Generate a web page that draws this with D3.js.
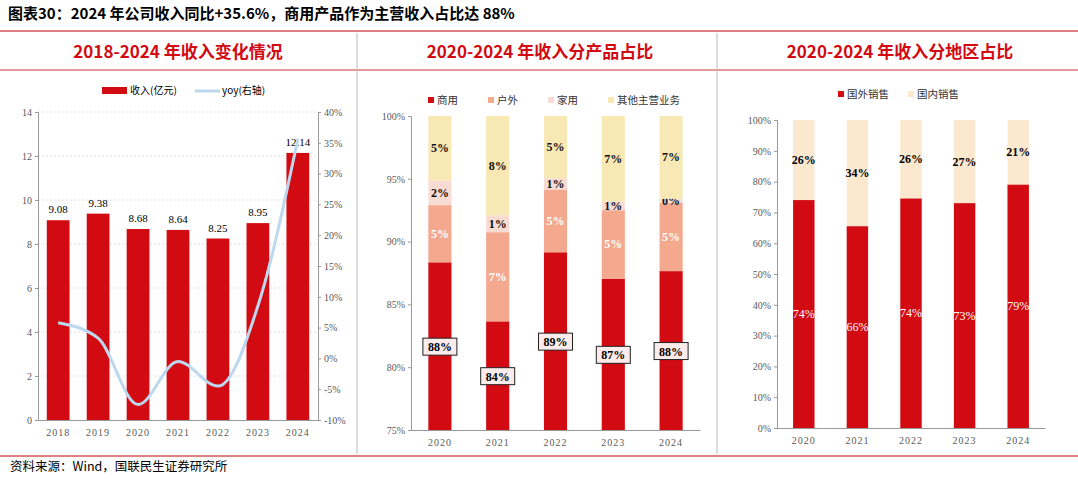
<!DOCTYPE html><html><head><meta charset="utf-8"><script src="https://cdn.jsdelivr.net/npm/d3@7"></script>
<style>body{margin:0;background:#fff}svg{font-family:"Liberation Serif","Noto Sans CJK SC",serif}</style></head><body><svg id="c" width="1078" height="479"></svg><script>
const years1=["2018","2019","2020","2021","2022","2023","2024"];
const revenue=[9.08,9.38,8.68,8.64,8.25,8.95,12.14];
const yoy=[5.8,3.3,-7.5,-0.5,-4.5,8.5,35.6];
const years2=["2020","2021","2022","2023","2024"];
const commercial=[88.35,83.65,89.15,87.05,87.65];
const outdoor=[4.55,7.1,5.0,5.45,5.45];
const household=[1.95,1.35,0.9,0.7,0.3];
const other=[5.15,7.9,4.95,6.8,6.6];
const labC=["88%","84%","89%","87%","88%"],labO=["5%","7%","5%","5%","5%"],labH=["2%","1%","1%","1%","0%"],labOt=["5%","8%","5%","7%","7%"];
const foreign=[74,65.5,74.5,73,79];
const domestic=[26,34.5,25.5,27,21];
const labF=["74%","66%","74%","73%","79%"],labD=["26%","34%","26%","27%","21%"];
const RED="#d20a11",SALMON="#f4a88e",PINK="#f8dcd4",CREAM="#f8e8b4",BLUE="#bcd7ee",BEIGE="#fce8cf";
const svg=d3.select("#c");
const cjk='"Noto Sans CJK SC",sans-serif';
const serif='"Liberation Serif",serif';
svg.append("text").attr("x",8).attr("y",19).attr("font-family",cjk).attr("font-weight","bold").attr("font-size",15).text("图表30：2024 年公司收入同比+35.6%，商用产品作为主营收入占比达 88%");
svg.append("line").attr("x1",0).attr("x2",1078).attr("y1",31).attr("y2",31).attr("stroke","#c00000").attr("stroke-width",1.2);
svg.append("line").attr("x1",0).attr("x2",1078).attr("y1",70).attr("y2",70).attr("stroke","#c00000").attr("stroke-width",0.8);
svg.append("line").attr("x1",0).attr("x2",1078).attr("y1",456).attr("y2",456).attr("stroke","#c00000").attr("stroke-width",1.2);
[357,717].forEach(x=>svg.append("line").attr("x1",x).attr("x2",x).attr("y1",33).attr("y2",454).attr("stroke","#bbb"));
[["2018-2024 年收入变化情况",178],["2020-2024 年收入分产品占比",540],["2020-2024 年收入分地区占比",900]].forEach(([t,x])=>svg.append("text").attr("x",x).attr("y",58).attr("text-anchor","middle").attr("font-family",cjk).attr("font-weight","bold").attr("font-size",17).attr("fill",RED).text(t));
svg.append("text").attr("x",10).attr("y",471).attr("font-family",cjk).attr("font-size",12.5).text("资料来源：Wind，国联民生证券研究所");
const gray="#595959";
function axisStyle(g){g.attr("font-family",serif);g.selectAll("text").attr("fill",gray).attr("font-size",10);g.selectAll("path,line").attr("stroke","#999");}
// chart 1
{const x=d3.scaleBand().domain(years1).range([38,318]).paddingInner(0.43).paddingOuter(0.22);
const y=d3.scaleLinear().domain([0,14]).range([420,112]);
const y2=d3.scaleLinear().domain([-10,40]).range([420,112]);
const g=svg.append("g");
y.ticks(7).forEach(t=>{if(t>0)g.append("line").attr("x1",38).attr("x2",318).attr("y1",y(t)).attr("y2",y(t)).attr("stroke","#ddd").attr("stroke-dasharray","2,2");});
g.append("g").attr("transform","translate(38,0)").call(d3.axisLeft(y).ticks(7).tickSize(3)).call(axisStyle);
g.append("g").attr("transform","translate(318,0)").call(d3.axisRight(y2).ticks(10).tickSize(3).tickFormat(d=>d+"%")).call(axisStyle);
g.append("g").attr("transform","translate(0,420)").call(d3.axisBottom(x).tickSize(0).tickPadding(9)).call(axisStyle).selectAll("text").attr("letter-spacing",1);
g.selectAll(".b").data(revenue).join("rect").attr("x",(d,i)=>x(years1[i])).attr("width",x.bandwidth()).attr("y",d=>y(d)).attr("height",d=>420-y(d)).attr("fill",RED);
g.selectAll(".l").data(revenue).join("text").attr("x",(d,i)=>x(years1[i])+x.bandwidth()/2).attr("y",d=>y(d)-7).attr("text-anchor","middle").attr("font-size",11).text(d=>d.toFixed(2));
g.append("path").attr("d",d3.line().x((d,i)=>x(years1[i])+x.bandwidth()/2).y(d=>y2(d)).curve(d3.curveMonotoneX)(yoy)).attr("fill","none").attr("stroke",BLUE).attr("stroke-width",3);
g.append("rect").attr("x",102).attr("y",87).attr("width",25).attr("height",7).attr("fill",RED);
g.append("text").attr("x",130).attr("y",94).attr("font-family",cjk).attr("font-size",10).text("收入(亿元)");
g.append("line").attr("x1",195).attr("x2",220).attr("y1",91).attr("y2",91).attr("stroke",BLUE).attr("stroke-width",3);
g.append("text").attr("x",222).attr("y",94).attr("font-family",cjk).attr("font-size",10).text("yoy(右轴)");}
// chart 2
{const x=d3.scaleBand().domain(years2).range([411,700]).paddingInner(0.6).paddingOuter(0.3);
const y=d3.scaleLinear().domain([75,100]).range([430,116]);
const g=svg.append("g");
const segs=[[commercial,RED,labC],[outdoor,SALMON,labO],[household,PINK,labH],[other,CREAM,labOt]];
years2.forEach((yr,i)=>{let base=75;segs.forEach(([arr,col,lab],k)=>{const lo=k==0?75:base,hi=k==0?arr[i]:base+arr[i];
g.append("rect").attr("x",x(yr)).attr("width",x.bandwidth()).attr("y",y(hi)).attr("height",y(lo)-y(hi)).attr("fill",col);
const cx=x(yr)+x.bandwidth()/2;
if(k==0){const cy=y((75+arr[i])/2);g.append("rect").attr("x",cx-17).attr("y",cy-8).attr("width",34).attr("height",17).attr("fill","#fbeceb").attr("stroke","#222");
g.append("text").attr("x",cx).attr("y",cy+5).attr("text-anchor","middle").attr("font-weight","bold").attr("font-size",12).text(lab[i]);}
else{g.append("text").attr("x",cx).attr("y",(y(lo)+y(hi))/2+4).attr("text-anchor","middle").attr("font-weight","bold").attr("font-size",12).attr("fill",k==1?"#fff":"#111").text(lab[i]);}
base=hi;});});
g.append("g").attr("transform","translate(411,0)").call(d3.axisLeft(y).tickValues([75,80,85,90,95,100]).tickSize(3).tickFormat(d=>d+"%")).call(axisStyle);
g.append("g").attr("transform","translate(0,430)").call(d3.axisBottom(x).tickSize(0).tickPadding(9)).call(axisStyle).selectAll("text").attr("letter-spacing",1);
[["商用",RED,428],["户外",SALMON,488],["家用",PINK,548],["其他主营业务",CREAM,608]].forEach(([t,c,lx])=>{g.append("rect").attr("x",lx).attr("y",97).attr("width",6).attr("height",6).attr("fill",c);g.append("text").attr("x",lx+9).attr("y",104).attr("font-family",cjk).attr("font-size",10.5).attr("fill","#333").text(t);});}
// chart 3
{const x=d3.scaleBand().domain(years2).range([777,1045]).paddingInner(0.6).paddingOuter(0.3);
const y=d3.scaleLinear().domain([0,100]).range([428,120]);
const g=svg.append("g");
years2.forEach((yr,i)=>{const cx=x(yr)+x.bandwidth()/2;
g.append("rect").attr("x",x(yr)).attr("width",x.bandwidth()).attr("y",y(100)).attr("height",y(foreign[i])-y(100)).attr("fill",BEIGE);
g.append("rect").attr("x",x(yr)).attr("width",x.bandwidth()).attr("y",y(foreign[i])).attr("height",y(0)-y(foreign[i])).attr("fill",RED);
g.append("text").attr("x",cx).attr("y",y(foreign[i]/2)+4).attr("text-anchor","middle").attr("font-size",12).attr("fill","#fff").text(labF[i]);
g.append("text").attr("x",cx).attr("y",y(foreign[i]+domestic[i]/2)+4).attr("text-anchor","middle").attr("font-weight","bold").attr("font-size",12).text(labD[i]);});
g.append("g").attr("transform","translate(777,0)").call(d3.axisLeft(y).ticks(10).tickSize(3).tickFormat(d=>d+"%")).call(axisStyle);
g.append("g").attr("transform","translate(0,428)").call(d3.axisBottom(x).tickSize(0).tickPadding(9)).call(axisStyle).selectAll("text").attr("letter-spacing",1);
[["国外销售",RED,838],["国内销售",BEIGE,908]].forEach(([t,c,lx])=>{g.append("rect").attr("x",lx).attr("y",91).attr("width",6).attr("height",6).attr("fill",c);g.append("text").attr("x",lx+9).attr("y",98).attr("font-family",cjk).attr("font-size",10.5).attr("fill","#333").text(t);});}
</script></body></html>
